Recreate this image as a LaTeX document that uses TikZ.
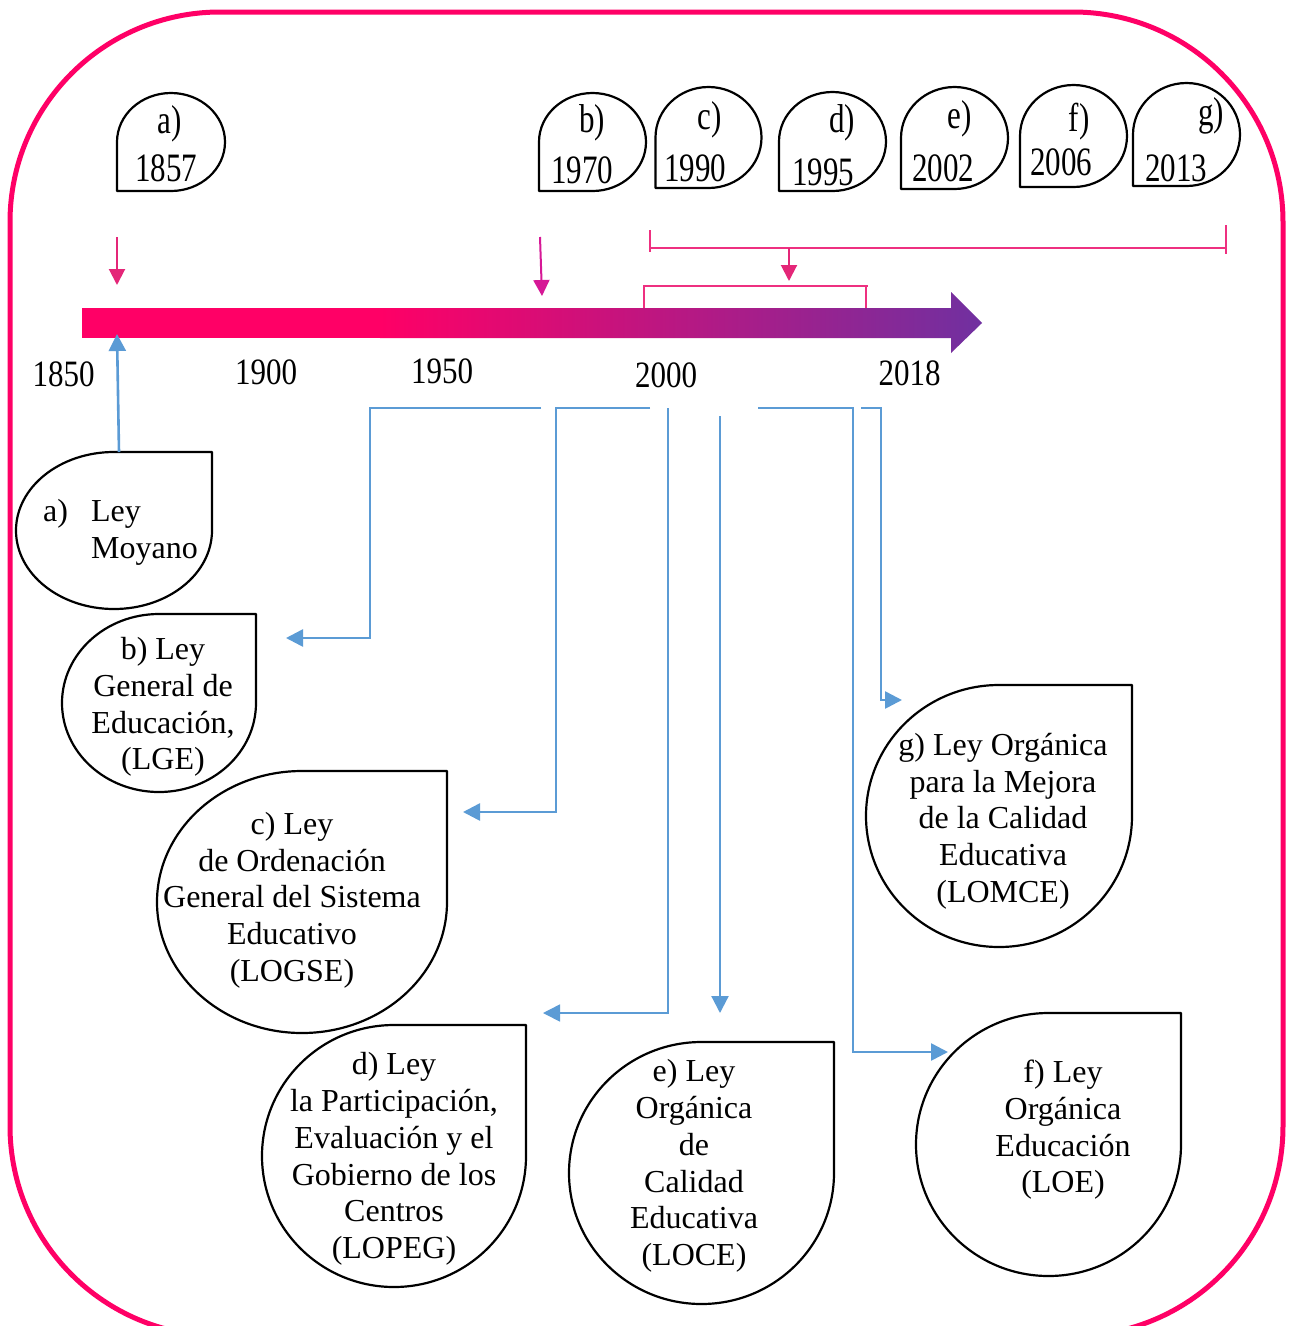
\documentclass[tikz,border=0pt]{standalone}
\usepackage{fontspec}
\setmainfont{Liberation Serif}
\usepackage{graphicx}
\usetikzlibrary{arrows.meta}

\definecolor{framepink}{RGB}{255,0,102}
\definecolor{barpink}{RGB}{255,0,102}
\definecolor{barpurple}{RGB}{112,48,160}
\definecolor{linkblue}{RGB}{91,155,213}
\definecolor{markpinkA}{RGB}{228,38,120}
\definecolor{markpinkB}{RGB}{214,24,150}
\definecolor{spanpink}{RGB}{238,48,128}

% teardrop outlines drawn round an (empty) box node
% point at the top right corner
\newcommand\dropTR[3]{\draw[dropline] (#1.north east) -- (#1.north)
  arc[start angle=90,end angle=360,x radius=#2,y radius=#3] -- cycle;}
% point at the bottom left corner
\newcommand\dropBL[3]{\draw[dropline] (#1.south west) -- (#1.west)
  arc[start angle=180,end angle=-90,x radius=#2,y radius=#3] -- cycle;}
\newcommand\tallnum[2][1.3]{\scalebox{1}[#1]{#2}}

\begin{document}
\begin{tikzpicture}[x=1pt,y=1pt,
  dropline/.style={draw=black,line width=2.2pt,line join=round},
  dropbox/.style={inner sep=0pt,outer sep=0pt,minimum width=#1},
  lawtext/.style={align=center,inner sep=0pt,font=\fontsize{32}{36.7}\selectfont},
  yeartext/.style={inner sep=0pt,font=\fontsize{31}{34}\selectfont},
  ticktext/.style={inner sep=0pt,font=\fontsize{31}{34}\selectfont},
  bluelink/.style={draw=linkblue,line width=2.6pt,-{Triangle[length=17pt,width=17pt]}},
  thinlink/.style={bluelink,line width=1.6pt},
  pointer/.style={line width=2pt,-{Triangle[length=16pt,width=16pt]}},
  spanline/.style={draw=spanpink,line width=1.4pt}]

\useasboundingbox (0,0) rectangle (1293,-1326);
\fill[white] (0,0) rectangle (1293,-1326);

% outer frame
\begin{scope}
  \clip (0,0) rectangle (1293,-1326);
  \draw[framepink,line width=5pt,rounded corners=210pt] (10,-12) rectangle (1283,-1336);
\end{scope}

% ---------- year markers above the axis ----------
\node[dropbox=108pt,minimum height=98pt] (yrA) at (171,-142) {};
\node[dropbox=107pt,minimum height=98pt]  (yrB) at (592.5,-142) {};
\node[dropbox=106pt,minimum height=101pt] (yrC) at (708.5,-137.5) {};
\node[dropbox=107pt,minimum height=99pt] (yrD) at (832.5,-141.5) {};
\node[dropbox=107pt,minimum height=102pt] (yrE) at (954.5,-138) {};
\node[dropbox=107pt,minimum height=102pt] (yrF) at (1073.5,-136) {};
\node[dropbox=107pt,minimum height=103pt] (yrG) at (1186.5,-134.5) {};
\dropBL{yrA}{54pt}{49pt}
\dropBL{yrB}{53.5pt}{49pt}
\dropBL{yrC}{53pt}{50.5pt}
\dropBL{yrD}{53.5pt}{49.5pt}
\dropBL{yrE}{53.5pt}{51pt}
\dropBL{yrF}{53.5pt}{51pt}
\dropBL{yrG}{53.5pt}{51.5pt}

\node[yeartext] (yrAl) at (170,-124) {\tallnum{a)}};
\node[yeartext] (yrAn) at (166,-168) {\tallnum{1857}};
\node[yeartext] (yrBl) at (592,-123) {\tallnum{b)}};
\node[yeartext] (yrBn) at (582,-170) {\tallnum{1970}};
\node[yeartext] (yrCl) at (710,-120) {\tallnum{c)}};
\node[yeartext] (yrCn) at (695,-168) {\tallnum{1990}};
\node[yeartext] (yrDl) at (842,-123) {\tallnum{d)}};
\node[yeartext] (yrDn) at (823,-172) {\tallnum{1995}};
\node[yeartext] (yrEl) at (960,-119) {\tallnum{e)}};
\node[yeartext] (yrEn) at (943,-168) {\tallnum{2002}};
\node[yeartext] (yrFl) at (1079,-122) {\tallnum{f)}};
\node[yeartext] (yrFn) at (1061,-162) {\tallnum{2006}};
\node[yeartext] (yrGl) at (1211,-116) {\tallnum{g)}};
\node[yeartext] (yrGn) at (1176,-168) {\tallnum{2013}};

% ---------- pink pointers and spans ----------
\coordinate (pA0) at (117,-237);
\coordinate (pA1) at (117,-285);
\coordinate (pB0) at (540,-237);
\coordinate (pB1) at (542,-296);
\draw[pointer,markpinkA] (pA0) -- (pA1);
\draw[pointer,markpinkB] (pB0) -- (pB1);

\draw[spanline] (650,-230) -- (650,-252);
\draw[spanline] (650,-248) -- (1226,-248);
\draw[spanline] (1226,-225) -- (1226,-254);
\coordinate (pC0) at (789,-248);
\coordinate (pC1) at (789,-281);
\draw[pointer,markpinkA] (pC0) -- (pC1);
\draw[spanline] (644,-311) -- (644,-286) -- (868,-286);
\draw[spanline] (866,-286) -- (866,-311);

% ---------- time axis ----------
\fill[barpink] (82,-308) rectangle (381,-338);
\shade[left color=barpink,right color=barpurple]
  (380,-308) -- (951,-308) -- (951,-292) -- (982,-323) -- (951,-353)
  -- (951,-338) -- (380,-338) -- cycle;

\node[ticktext] (t1850) at (63.5,-374.5) {\tallnum[1.2]{1850}};
\node[ticktext] (t1900) at (266,-372.5) {\tallnum[1.2]{1900}};
\node[ticktext] (t1950) at (442,-371.5) {\tallnum[1.2]{1950}};
\node[ticktext] (t2000) at (666,-375) {\tallnum[1.2]{2000}};
\node[ticktext] (t2018) at (909.5,-373.5) {\tallnum[1.2]{2018}};

% ---------- law callouts ----------
\node[dropbox=196pt,minimum height=157pt] (boxA) at (114,-530.5) {};
\node[dropbox=194pt,minimum height=178pt] (boxB) at (159,-703) {};
\node[dropbox=290pt,minimum height=262pt] (boxC) at (302,-902) {};
\node[dropbox=264pt,minimum height=262pt] (boxD) at (394,-1156) {};
\node[dropbox=265pt,minimum height=262pt] (boxE) at (701.5,-1173) {};
\node[dropbox=266pt,minimum height=262pt] (boxG) at (999,-816) {};
\node[dropbox=265pt,minimum height=263pt] (boxF) at (1048.5,-1144.5) {};
\dropTR{boxA}{98pt}{78.5pt}
\dropTR{boxB}{97pt}{89pt}
\dropTR{boxC}{145pt}{131pt}
\dropTR{boxD}{132pt}{131pt}
\dropTR{boxE}{132.5pt}{131pt}
\dropTR{boxG}{133pt}{131pt}
\dropTR{boxF}{132.5pt}{131.5pt}

\node[lawtext] (lawA) at (120.5,-533)
  {\def\arraystretch{1}\begin{tabular}{@{}l@{\hspace{23pt}}l@{}}a) & Ley\\ & Moyano\end{tabular}};
\node[lawtext] (lawB) at (163,-707) {b) Ley\\General de\\Educación,\\(LGE)};
\node[lawtext] (lawC) at (292,-900) {c) Ley\\de Ordenación\\General del Sistema\\Educativo\\(LOGSE)};
\node[lawtext] (lawD) at (394,-1159) {d) Ley\\la Participación,\\Evaluación y el\\Gobierno de los\\Centros\\(LOPEG)};
\node[lawtext] (lawE) at (694,-1166) {e) Ley\\Orgánica\\de\\Calidad\\Educativa\\(LOCE)};
\node[lawtext] (lawG) at (1003,-821) {g) Ley Orgánica\\para la Mejora\\de la Calidad\\Educativa\\(LOMCE)};
\node[lawtext] (lawF) at (1063,-1130) {f) Ley\\Orgánica\\Educación\\(LOE)};

% ---------- blue connectors ----------
\coordinate (barA) at (117,-334);
\draw[bluelink] ([xshift=5pt]boxA.north) -- (barA);

\coordinate (sB) at (541,-408);
\coordinate (eB) at (286,-638);
\draw[bluelink] (sB) -- (370,-408) -- (370,-638) -- (eB);

\coordinate (sC) at (650,-408);
\coordinate (eC) at (463,-812);
\draw[bluelink] (sC) -- (556,-408) -- (556,-812) -- (eC);

\coordinate (sD) at (668,-408);
\coordinate (eD) at (543,-1013);
\draw[thinlink] (sD) -- (668,-1013) -- (eD);

\coordinate (sE) at (720,-416);
\coordinate (eE) at (720,-1013);
\draw[bluelink,line width=2.2pt] (sE) -- (eE);

\coordinate (sF) at (758,-408);
\coordinate (eF) at (948,-1052);
\draw[bluelink] (sF) -- (853,-408) -- (853,-1052) -- (eF);

\coordinate (sG) at (861,-408);
\coordinate (eG) at (902,-700);
\draw[bluelink] (sG) -- (881,-408) -- (881,-700) -- (eG);

\end{tikzpicture}
\end{document}
